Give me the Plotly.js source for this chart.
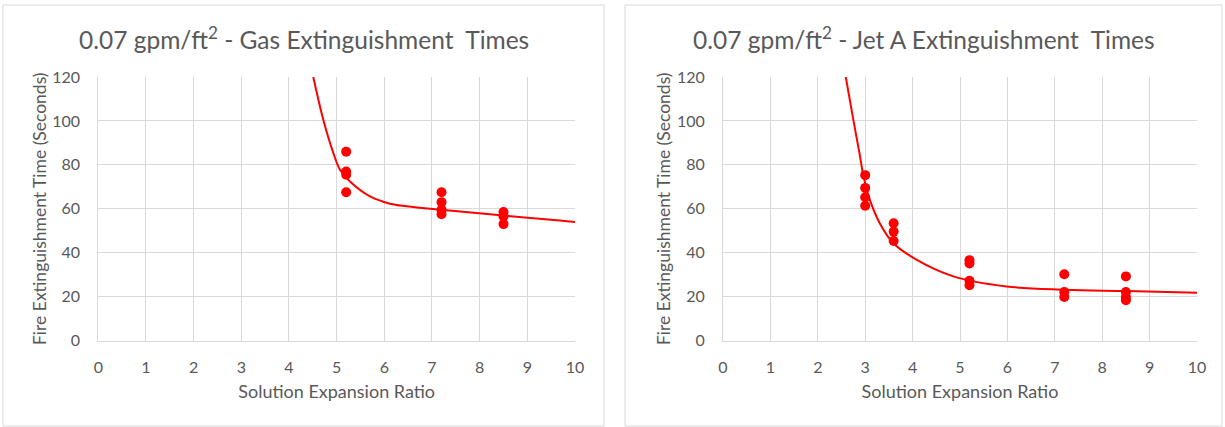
<!DOCTYPE html>
<html>
<head>
<meta charset="utf-8">
<script src="https://cdn.plot.ly/plotly-3.0.1.min.js"></script>
<style>html,body{margin:0;padding:0;background:#fff;}#chart{width:1225px;height:427px;}</style>
</head>
<body>
<div id="chart"></div>
<script>
// ---- Data ----
const gasX = [5.2, 5.2, 5.2, 5.2, 7.2, 7.2, 7.2, 7.2, 8.5, 8.5, 8.5];
const gasY = [86, 77, 75.5, 67.5, 67.5, 63, 59.5, 57.5, 58.5, 56.5, 53];
const gasCurveX = [4.51, 4.72, 4.93, 5.07, 5.28, 5.70, 6.12, 6.47, 7.19, 8.5, 9.68, 10];
const gasCurveY = [120, 100.5, 85.4, 77.8, 72.4, 65.6, 62.3, 61.1, 59.5, 56.9, 54.7, 54];

const jetX = [3, 3, 3, 3, 3.6, 3.6, 3.6, 5.2, 5.2, 5.2, 5.2, 7.2, 7.2, 7.2, 8.5, 8.5, 8.5, 8.5];
const jetY = [75.3, 69.5, 65.2, 61.4, 53.4, 49.6, 45.3, 36.6, 35.1, 27.2, 25.2, 30.2, 22.1, 19.8, 29.2, 22.1, 19.8, 18.3];
const jetCurveX = [2.59, 2.75, 2.88, 2.96, 3.10, 3.31, 3.59, 4.09, 4.86, 5.98, 7.22, 8.52, 10];
const jetCurveY = [120, 100.5, 85.2, 75.3, 63.9, 53.3, 44.4, 36.7, 29.2, 24.6, 23.1, 22.5, 21.7];

const xTicks = [0, 1, 2, 3, 4, 5, 6, 7, 8, 9, 10];
const yTicks = [0, 20, 40, 60, 80, 100, 120];

const titles = ["0.07 gpm/ft<sup>2</sup> - Gas Extinguishment  Times",
                "0.07 gpm/ft<sup>2</sup> - Jet A Extinguishment  Times"];
const xTitle = "Solution Expansion Ratio";
const yTitle = "Fire Extinguishment Time (Seconds)";

// ---- Layout helpers ----
const W = 1225, H = 427;
const FONT = "Lato, 'Open Sans', sans-serif";
const GREY = "#595959";
const RED = "#ff0000";
const px = v => v / W;
const py = v => 1 - v / H;

function xaxis(d0, d1, anchor) {
  return {
    domain: [px(d0), px(d1)], anchor: anchor, range: [0, 10],
    tickvals: xTicks, ticktext: xTicks.map(String),
    showgrid: true, gridcolor: "#d9d9d9", gridwidth: 1,
    zeroline: false, showline: true, linecolor: "#d9d9d9", linewidth: 1,
    ticks: "", ticklabelstandoff: 12, fixedrange: true,
    tickfont: {family: FONT, size: 16, color: GREY},
    title: {text: xTitle, font: {family: FONT, size: 18, color: GREY}, standoff: 10}
  };
}
function yaxis(anchor) {
  return {
    domain: [py(340.5), py(77)], anchor: anchor, range: [0, 120],
    tickvals: yTicks, ticktext: yTicks.map(String),
    showgrid: true, gridcolor: "#d9d9d9", gridwidth: 1,
    zeroline: false, showline: true, linecolor: "#d9d9d9", linewidth: 1,
    ticks: "", ticklabelstandoff: 14, fixedrange: true,
    tickfont: {family: FONT, size: 16, color: GREY},
    title: {text: yTitle, font: {family: FONT, size: 17.5, color: GREY}, standoff: 1}
  };
}

const data = [
  {x: gasCurveX, y: gasCurveY, xaxis: "x", yaxis: "y", mode: "lines", type: "scatter",
   line: {color: RED, width: 2, shape: "spline", smoothing: 1}, hoverinfo: "skip"},
  {x: gasX, y: gasY, xaxis: "x", yaxis: "y", mode: "markers", type: "scatter",
   marker: {color: RED, size: 10}},
  {x: jetCurveX, y: jetCurveY, xaxis: "x2", yaxis: "y2", mode: "lines", type: "scatter",
   line: {color: RED, width: 2, shape: "spline", smoothing: 1}, hoverinfo: "skip"},
  {x: jetX, y: jetY, xaxis: "x2", yaxis: "y2", mode: "markers", type: "scatter",
   marker: {color: RED, size: 10}}
];

const layout = {
  width: W, height: H,
  margin: {l: 0, r: 0, t: 0, b: 0},
  paper_bgcolor: "#ffffff", plot_bgcolor: "#ffffff",
  showlegend: false,
  xaxis: xaxis(98.3, 575, "y"),
  yaxis: yaxis("x"),
  xaxis2: xaxis(723, 1197, "y2"),
  yaxis2: yaxis("x2"),
  shapes: [
    {type: "rect", xref: "paper", yref: "paper", x0: px(3), x1: px(604), y0: py(426), y1: py(5),
     line: {color: "#d9d9d9", width: 1}, fillcolor: "rgba(0,0,0,0)", layer: "below"},
    {type: "rect", xref: "paper", yref: "paper", x0: px(625), x1: px(1222), y0: py(426), y1: py(5),
     line: {color: "#d9d9d9", width: 1}, fillcolor: "rgba(0,0,0,0)", layer: "below"}
  ],
  annotations: [
    {text: titles[0], xref: "paper", yref: "paper", x: px(304), y: py(38), xanchor: "center", yanchor: "middle",
     showarrow: false, font: {family: FONT, size: 24.5, color: GREY}},
    {text: titles[1], xref: "paper", yref: "paper", x: px(924), y: py(38), xanchor: "center", yanchor: "middle",
     showarrow: false, font: {family: FONT, size: 24.5, color: GREY}}
  ]
};

Plotly.newPlot("chart", data, layout, {displayModeBar: false, staticPlot: true});
</script>
</body>
</html>
